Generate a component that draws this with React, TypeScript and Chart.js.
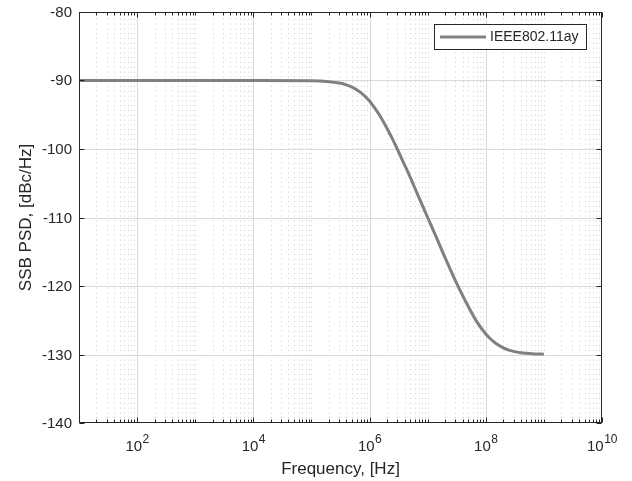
import React, { useEffect, useRef } from "react";
import { Chart, registerables } from "chart.js";

Chart.register(...registerables);

const seriesName = "IEEE802.11ay";
const frequencyHz = [
  10, 100, 1e3, 1e4, 1e5, 2e5, 3e5, 4e5, 5e5, 7e5, 1e6, 1.2e6, 1.5e6, 2e6, 2.5e6, 3e6, 4e6, 5e6, 7e6,
  1e7, 1.5e7, 2e7, 3e7, 4e7, 5e7, 7e7, 1e8, 1.2e8, 1.5e8, 2e8, 2.5e8, 3e8, 4e8, 5e8, 7e8, 1e9,
];
const ssbPsdDbc = [
  -90, -90, -90, -90, -90.04, -90.17, -90.37, -90.64, -90.97, -91.74, -93.0, -93.9, -95.1, -97.0, -98.6, -100.0, -102.3, -104.1, -107.0,
  -110.0, -113.4, -115.9, -119.2, -121.4, -123.0, -125.2, -127.0, -127.7, -128.4, -129.03, -129.36, -129.54, -129.74, -129.83, -129.91, -129.96,
];
const xMin = 10;
const xMax = 1e10;
const xTickExponents = [2, 4, 6, 8, 10];
const yMin = -140;
const yMax = -80;
const yTicks = [-140, -130, -120, -110, -100, -90, -80];
const xTitle = "Frequency, [Hz]";
const yTitle = "SSB PSD, [dBc/Hz]";

const FONT = '"Liberation Sans", Arial, Helvetica, sans-serif';
const TEXT = "#262626";
const LINE = "#808080";

function logPositions(): number[] {
  const v: number[] = [];
  for (let e = 1; e < 10; e++) for (let m = 1; m < 10; m++) v.push(m * Math.pow(10, e));
  v.push(1e10);
  return v;
}
function isMajor(v: number) {
  return xTickExponents.some((e) => Math.abs(v - Math.pow(10, e)) < 1e-6 * v);
}

const matlabPlugin = {
  id: "matlabLook",
  beforeDatasetsDraw(chart: any) {
    const { ctx, chartArea: a, scales } = chart;
    const x = scales.x;
    const y = scales.y;
    ctx.save();
    ctx.lineWidth = 1;
    ctx.strokeStyle = "#cdcdcd";
    ctx.setLineDash([1, 3.8]);
    for (const v of logPositions()) {
      if (isMajor(v)) continue;
      const px = Math.round(x.getPixelForValue(v)) + 0.5;
      if (px <= a.left + 1 || px >= a.right - 1) continue;
      ctx.beginPath();
      ctx.moveTo(px, a.bottom);
      ctx.lineTo(px, a.top);
      ctx.stroke();
    }
    ctx.setLineDash([]);
    ctx.strokeStyle = "#d9d9d9";
    for (const e of xTickExponents) {
      const px = Math.round(x.getPixelForValue(Math.pow(10, e))) + 0.5;
      if (px >= a.right - 1) continue;
      ctx.beginPath();
      ctx.moveTo(px, a.bottom);
      ctx.lineTo(px, a.top);
      ctx.stroke();
    }
    for (const t of yTicks) {
      if (t === yMin || t === yMax) continue;
      const py = Math.round(y.getPixelForValue(t)) + 0.5;
      ctx.beginPath();
      ctx.moveTo(a.left, py);
      ctx.lineTo(a.right, py);
      ctx.stroke();
    }
    ctx.restore();
  },
  afterDraw(chart: any) {
    const { ctx, chartArea: a, scales } = chart;
    const x = scales.x;
    const y = scales.y;
    ctx.save();
    const L = Math.round(a.left) + 0.5;
    const R = Math.round(a.right) - 0.5;
    const T = Math.round(a.top) + 0.5;
    const B = Math.round(a.bottom) - 0.5;
    ctx.strokeStyle = TEXT;
    ctx.lineWidth = 1;
    ctx.strokeRect(L, T, R - L, B - T);
    for (const v of logPositions()) {
      const px = Math.round(x.getPixelForValue(v)) + 0.5;
      const len = isMajor(v) ? 5 : 3;
      ctx.beginPath();
      ctx.moveTo(px, B);
      ctx.lineTo(px, B - len);
      ctx.moveTo(px, T);
      ctx.lineTo(px, T + len);
      ctx.stroke();
    }
    ctx.fillStyle = TEXT;
    ctx.font = `15px ${FONT}`;
    ctx.textAlign = "right";
    ctx.textBaseline = "middle";
    for (const t of yTicks) {
      const py = Math.round(y.getPixelForValue(t)) + 0.5;
      ctx.beginPath();
      ctx.moveTo(L, py);
      ctx.lineTo(L + 5, py);
      ctx.moveTo(R, py);
      ctx.lineTo(R - 5, py);
      ctx.stroke();
      ctx.fillText(String(t), a.left - 7, py);
    }
    ctx.textBaseline = "alphabetic";
    ctx.textAlign = "left";
    const baseFont = `15px ${FONT}`;
    const expFont = `12px ${FONT}`;
    for (const e of xTickExponents) {
      const px = x.getPixelForValue(Math.pow(10, e));
      ctx.font = baseFont;
      const wb = ctx.measureText("10").width;
      ctx.font = expFont;
      const we = ctx.measureText(String(e)).width;
      const start = px - (wb + we) / 2;
      ctx.font = baseFont;
      ctx.fillText("10", start, 451);
      ctx.font = expFont;
      ctx.fillText(String(e), start + wb + 0.5, 443);
    }
    ctx.font = `17px ${FONT}`;
    ctx.textAlign = "center";
    ctx.textBaseline = "alphabetic";
    ctx.fillText(xTitle, (a.left + a.right) / 2, 474);
    ctx.save();
    ctx.translate(26, (a.top + a.bottom) / 2);
    ctx.rotate(-Math.PI / 2);
    ctx.textBaseline = "middle";
    ctx.fillText(yTitle, 0, 0);
    ctx.restore();
    ctx.fillStyle = "#ffffff";
    ctx.fillRect(434.5, 24.5, 152, 25);
    ctx.strokeStyle = TEXT;
    ctx.lineWidth = 1;
    ctx.strokeRect(434.5, 24.5, 152, 25);
    ctx.strokeStyle = LINE;
    ctx.lineWidth = 3;
    ctx.beginPath();
    ctx.moveTo(440, 37);
    ctx.lineTo(486, 37);
    ctx.stroke();
    ctx.fillStyle = TEXT;
    ctx.font = `14px ${FONT}`;
    ctx.textAlign = "left";
    ctx.textBaseline = "middle";
    ctx.fillText(chart.data.datasets[0].label, 490, 37.5);
    ctx.restore();
  },
};

export default function App() {
  const ref = useRef<HTMLCanvasElement | null>(null);
  useEffect(() => {
    document.body.style.margin = "0";
    const canvas = ref.current;
    if (!canvas) return;
    const chart = new Chart(canvas, {
      type: "line",
      data: {
        datasets: [
          {
            label: seriesName,
            data: frequencyHz.map((f, i) => ({ x: f, y: ssbPsdDbc[i] })),
            borderColor: LINE,
            borderWidth: 3,
            pointRadius: 0,
            fill: false,
            cubicInterpolationMode: "monotone",
          },
        ],
      },
      options: {
        responsive: false,
        animation: false,
        devicePixelRatio: 1,
        layout: { padding: { top: 12, right: 30, bottom: 58, left: 79 } },
        plugins: { legend: { display: false }, tooltip: { enabled: false } },
        scales: {
          x: { type: "logarithmic", min: xMin, max: xMax, display: false },
          y: { type: "linear", min: yMin, max: yMax, display: false },
        },
      },
      plugins: [matlabPlugin],
    });
    return () => chart.destroy();
  }, []);
  return (
    <div style={{ width: 632, height: 481, background: "#ffffff" }}>
      <canvas ref={ref} width={632} height={481} />
    </div>
  );
}
